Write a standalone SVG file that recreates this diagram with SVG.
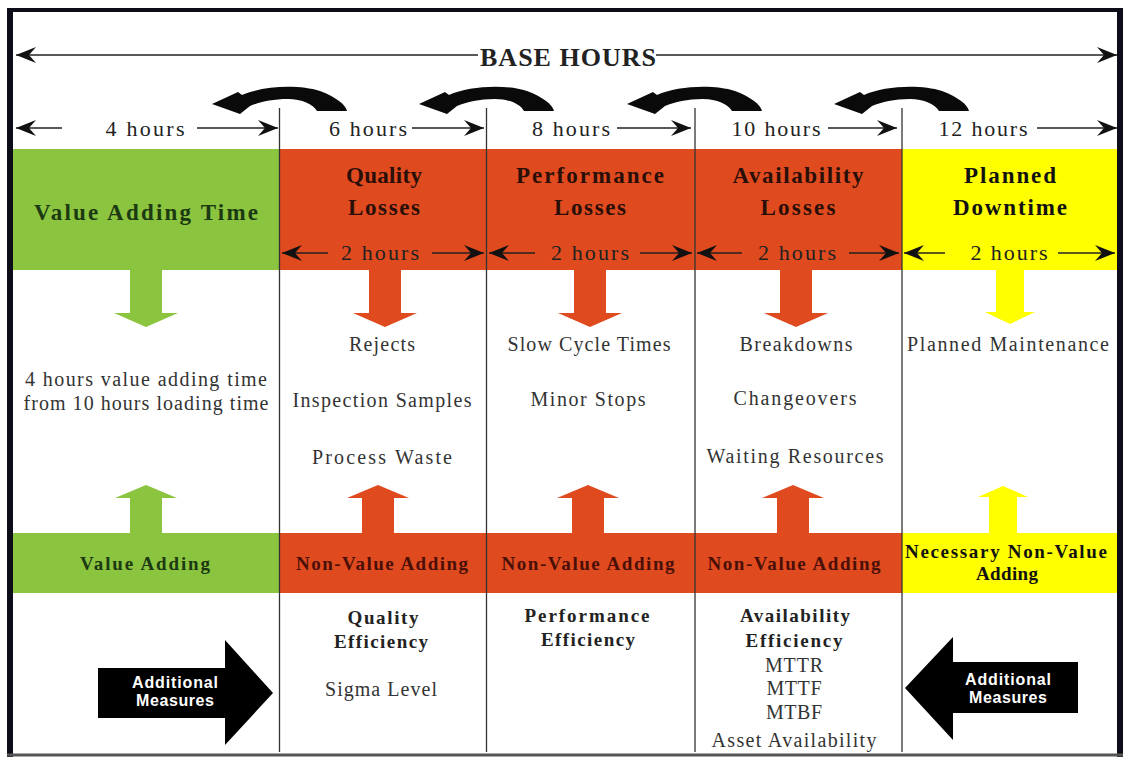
<svg xmlns="http://www.w3.org/2000/svg" width="1129" height="763" viewBox="0 0 1129 763">
  <defs>
    <style>
      .serif { font-family: "Liberation Serif", "Times New Roman", serif; }
      .hrs { font-family: "Liberation Serif", serif; font-size: 22px; fill: #222; text-anchor: middle; }
      .hdr { font-family: "Liberation Serif", serif; font-size: 23px; font-weight: bold; text-anchor: middle; }
      .mid { font-family: "Liberation Serif", serif; font-size: 20px; fill: #333; text-anchor: middle; }
      .band { font-family: "Liberation Serif", serif; font-size: 19px; font-weight: bold; text-anchor: middle; }
      .eff { font-family: "Liberation Serif", serif; font-size: 19px; font-weight: bold; fill: #222; text-anchor: middle; }
      .meas { font-family: "Liberation Sans", Arial, sans-serif; font-size: 16px; font-weight: bold; fill: #fff; text-anchor: middle; }
      .dim { stroke: #222; stroke-width: 1.4; fill: none; marker-end: url(#ah); }
      .div { stroke: #333; stroke-width: 1.3; }
      .green { fill: #8bc43f; }
      .red { fill: #e04a1f; }
      .yellow { fill: #ffff00; }
      .curl { fill: #0a0a0a; }
    </style>
    <marker id="ah" viewBox="-22 -10 24 20" refX="0" refY="0" markerWidth="24" markerHeight="20" markerUnits="userSpaceOnUse" orient="auto">
      <path d="M0,0 L-20,-8 L-13,0 L-20,8 Z" fill="#111"/>
    </marker>
    <!-- curved "carry over" arrow, centred on x=0: barbed head on the left, blunt thick tail on the right -->
    <path id="curl" d="M -68 104 L -42 92 L -38 95 C -18 86 18 84 40 91 C 56 97 66 105 67 111 L 37 111 C 33 104 22 99 8 99 C -8 99 -20 102 -30 106 L -40 114 Z"/>
  </defs>

  <rect x="0" y="0" width="1129" height="763" fill="#fff"/>

  <!-- colour bands -->
  <g id="bands">
    <rect class="green" x="13" y="149" width="267" height="121"/>
    <rect class="red" x="280" y="149" width="622" height="121"/>
    <rect class="yellow" x="902" y="149" width="215" height="121"/>
    <rect class="green" x="13" y="533" width="267" height="60"/>
    <rect class="red" x="280" y="533" width="622" height="60"/>
    <rect class="yellow" x="902" y="533" width="215" height="60"/>
  </g>

  <!-- column dividers -->
  <g id="dividers">
    <line class="div" x1="279.5" y1="108" x2="279.5" y2="752"/>
    <line class="div" x1="486.5" y1="108" x2="486.5" y2="752"/>
    <line class="div" x1="695" y1="108" x2="695" y2="752"/>
    <line class="div" x1="902" y1="108" x2="902" y2="752"/>
  </g>

  <!-- outer frame -->
  <g id="frame">
    <line x1="10" y1="8" x2="10" y2="757" stroke="#0d0d1a" stroke-width="6"/>
    <line x1="1120" y1="8" x2="1120" y2="757" stroke="#0d0d1a" stroke-width="6"/>
    <line x1="7" y1="10" x2="1123" y2="10" stroke="#0d0d1a" stroke-width="4"/>
    <line x1="7" y1="755" x2="1123" y2="755" stroke="#555" stroke-width="3"/>
  </g>

  <g id="base-hours">
    <text class="serif" x="568" y="66" font-size="26" font-weight="bold" fill="#222" text-anchor="middle" textLength="176" lengthAdjust="spacing">BASE HOURS</text>
  </g>

  <g id="hours-row">
    <text class="hrs" x="145" y="136" textLength="79" lengthAdjust="spacing">4 hours</text>
    <text class="hrs" x="368" y="136" textLength="78" lengthAdjust="spacing">6 hours</text>
    <text class="hrs" x="571" y="136" textLength="78" lengthAdjust="spacing">8 hours</text>
    <text class="hrs" x="776" y="136" textLength="89" lengthAdjust="spacing">10 hours</text>
    <text class="hrs" x="983" y="136" textLength="89" lengthAdjust="spacing">12 hours</text>
  </g>

  <g id="col-value">
    <text class="hdr" x="146" y="220" fill="#1c3a12" textLength="224" lengthAdjust="spacing">Value Adding Time</text>
    <text class="mid" x="146" y="386" textLength="242" lengthAdjust="spacing">4 hours value adding time</text>
    <text class="mid" x="146" y="410" textLength="245" lengthAdjust="spacing">from 10 hours loading time</text>
    <text class="band" x="145" y="570" fill="#1c3a12" textLength="130" lengthAdjust="spacing">Value Adding</text>
  </g>

  <g id="col-quality">
    <text class="hdr" x="384" y="183" fill="#2a0f08" textLength="76" lengthAdjust="spacing">Quality</text>
    <text class="hdr" x="384" y="215" fill="#2a0f08" textLength="72" lengthAdjust="spacing">Losses</text>
    <text class="hrs" x="380" y="260" fill="#2a0f08" textLength="78" lengthAdjust="spacing">2 hours</text>
    <text class="mid" x="382" y="351" textLength="66" lengthAdjust="spacing">Rejects</text>
    <text class="mid" x="382" y="407" textLength="179" lengthAdjust="spacing">Inspection Samples</text>
    <text class="mid" x="382" y="464" textLength="140" lengthAdjust="spacing">Process Waste</text>
    <text class="band" x="382" y="570" fill="#4a1008" textLength="172" lengthAdjust="spacing">Non-Value Adding</text>
    <text class="eff" x="383" y="624" textLength="71" lengthAdjust="spacing">Quality</text>
    <text class="eff" x="381" y="648" textLength="94" lengthAdjust="spacing">Efficiency</text>
    <text class="mid" x="381" y="696" textLength="112" lengthAdjust="spacing">Sigma Level</text>
  </g>

  <g id="col-performance">
    <text class="hdr" x="590" y="183" fill="#2a0f08" textLength="148" lengthAdjust="spacing">Performance</text>
    <text class="hdr" x="590" y="215" fill="#2a0f08" textLength="72" lengthAdjust="spacing">Losses</text>
    <text class="hrs" x="590" y="260" fill="#2a0f08" textLength="78" lengthAdjust="spacing">2 hours</text>
    <text class="mid" x="589" y="351" textLength="163" lengthAdjust="spacing">Slow Cycle Times</text>
    <text class="mid" x="588" y="406" textLength="115" lengthAdjust="spacing">Minor Stops</text>
    <text class="band" x="588" y="570" fill="#4a1008" textLength="173" lengthAdjust="spacing">Non-Value Adding</text>
    <text class="eff" x="587" y="622" textLength="125" lengthAdjust="spacing">Performance</text>
    <text class="eff" x="588" y="646" textLength="94" lengthAdjust="spacing">Efficiency</text>
  </g>

  <g id="col-availability">
    <text class="hdr" x="798" y="183" fill="#2a0f08" textLength="131" lengthAdjust="spacing">Availability</text>
    <text class="hdr" x="798" y="215" fill="#2a0f08" textLength="75" lengthAdjust="spacing">Losses</text>
    <text class="hrs" x="797" y="260" fill="#2a0f08" textLength="78" lengthAdjust="spacing">2 hours</text>
    <text class="mid" x="796" y="351" textLength="113" lengthAdjust="spacing">Breakdowns</text>
    <text class="mid" x="795" y="405" textLength="123" lengthAdjust="spacing">Changeovers</text>
    <text class="mid" x="795" y="463" textLength="177" lengthAdjust="spacing">Waiting Resources</text>
    <text class="band" x="794" y="570" fill="#4a1008" textLength="173" lengthAdjust="spacing">Non-Value Adding</text>
    <text class="eff" x="795" y="622" textLength="110" lengthAdjust="spacing">Availability</text>
    <text class="eff" x="794" y="647" textLength="97" lengthAdjust="spacing">Efficiency</text>
    <text class="mid" x="794" y="672" textLength="58" lengthAdjust="spacing">MTTR</text>
    <text class="mid" x="794" y="695" textLength="55" lengthAdjust="spacing">MTTF</text>
    <text class="mid" x="794" y="719" textLength="56" lengthAdjust="spacing">MTBF</text>
    <text class="mid" x="794" y="747" textLength="165" lengthAdjust="spacing">Asset Availability</text>
  </g>

  <g id="col-planned">
    <text class="hdr" x="1010" y="183" fill="#111" textLength="92" lengthAdjust="spacing">Planned</text>
    <text class="hdr" x="1010" y="215" fill="#111" textLength="114" lengthAdjust="spacing">Downtime</text>
    <text class="hrs" x="1009" y="260" fill="#111" textLength="77" lengthAdjust="spacing">2 hours</text>
    <text class="mid" x="1008" y="351" textLength="202" lengthAdjust="spacing">Planned Maintenance</text>
    <text class="band" x="1006" y="558" fill="#111" textLength="202" lengthAdjust="spacing">Necessary Non-Value</text>
    <text class="band" x="1007" y="580" fill="#111" textLength="62" lengthAdjust="spacing">Adding</text>
  </g>

  <g id="measures-left">
    <polygon points="98,668 225,668 225,640 273,693 225,745 225,718 98,718" fill="#000"/>
    <text class="meas" x="175" y="688" textLength="86" lengthAdjust="spacing">Additional</text>
    <text class="meas" x="175" y="706" textLength="78" lengthAdjust="spacing">Measures</text>
  </g>

  <g id="measures-right">
    <polygon points="1078,662 953,662 953,637 905,688 953,740 953,713 1078,713" fill="#000"/>
    <text class="meas" x="1008" y="685" textLength="86" lengthAdjust="spacing">Additional</text>
    <text class="meas" x="1008" y="703" textLength="78" lengthAdjust="spacing">Measures</text>
  </g>

  <g id="connectors">
    <!-- base hours span -->
    <line class="dim" x1="478" y1="55" x2="16" y2="55"/>
    <line class="dim" x1="656" y1="55" x2="1117" y2="55"/>
    <!-- hour spans -->
    <line class="dim" x1="62" y1="128" x2="16" y2="128"/>
    <line class="dim" x1="197" y1="128" x2="278" y2="128"/>
    <line class="dim" x1="412" y1="128" x2="484" y2="128"/>
    <line class="dim" x1="617" y1="128" x2="691" y2="128"/>
    <line class="dim" x1="828" y1="128" x2="897" y2="128"/>
    <line class="dim" x1="1037" y1="128" x2="1117" y2="128"/>
    <!-- two-hour spans -->
    <line class="dim" x1="328" y1="253" x2="282" y2="253"/>
    <line class="dim" x1="432" y1="253" x2="484" y2="253"/>
    <line class="dim" x1="535" y1="253" x2="489" y2="253"/>
    <line class="dim" x1="640" y1="253" x2="692" y2="253"/>
    <line class="dim" x1="742" y1="253" x2="697" y2="253"/>
    <line class="dim" x1="849" y1="253" x2="899" y2="253"/>
    <line class="dim" x1="945" y1="253" x2="904" y2="253"/>
    <line class="dim" x1="1058" y1="253" x2="1115" y2="253"/>
    <!-- carry-over curls -->
    <use href="#curl" class="curl" transform="translate(280 0)"/>
    <use href="#curl" class="curl" transform="translate(487 0)"/>
    <use href="#curl" class="curl" transform="translate(695 0)"/>
    <use href="#curl" class="curl" transform="translate(902 0)"/>
    <!-- down block arrows -->
    <polygon class="green" points="130,270 162,270 162,313 178,313 146,327 114,313 130,313"/>
    <polygon class="red" points="369,270 401,270 401,313 417,313 385,327 353,313 369,313"/>
    <polygon class="red" points="574,270 606,270 606,313 622,313 590,327 558,313 574,313"/>
    <polygon class="red" points="780,270 812,270 812,313 828,313 796,327 764,313 780,313"/>
    <polygon class="yellow" points="996,270 1024,270 1024,312 1035,312 1010,324 985,312 996,312"/>
    <!-- up block arrows -->
    <polygon class="green" points="130,533 162,533 162,498 177,498 146,485 115,498 130,498"/>
    <polygon class="red" points="362,533 394,533 394,498 409,498 378,485 347,498 362,498"/>
    <polygon class="red" points="572,533 604,533 604,498 619,498 588,485 557,498 572,498"/>
    <polygon class="red" points="777,533 809,533 809,498 824,498 793,485 762,498 777,498"/>
    <polygon class="yellow" points="989,533 1017,533 1017,497 1028,497 1003,486 978,497 989,497"/>
  </g>
</svg>
